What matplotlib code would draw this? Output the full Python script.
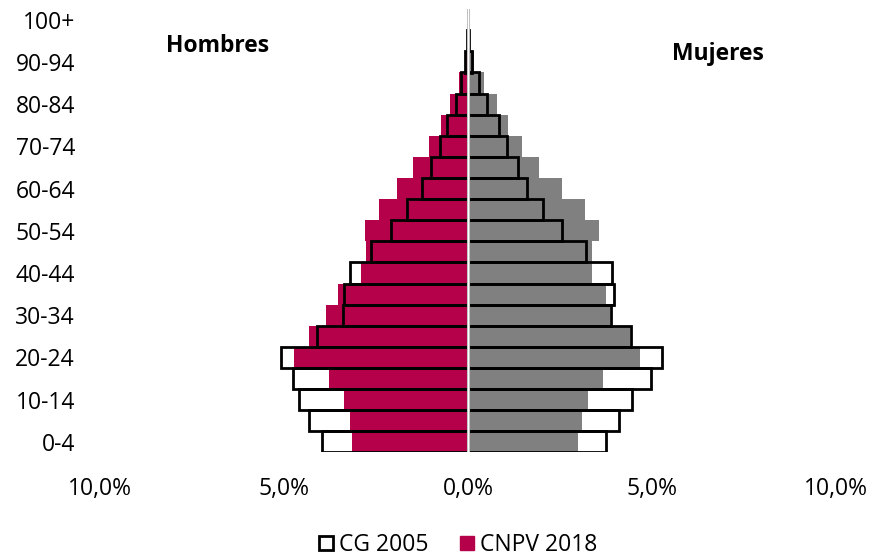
import numpy as np
import matplotlib
matplotlib.use("Agg")
import matplotlib.pyplot as plt
from matplotlib.patches import Patch

plt.rcParams['font.family'] = ['Open Sans', 'DejaVu Sans']

# age groups, bottom to top
ages = ["0-4", "5-9", "10-14", "15-19", "20-24", "25-29", "30-34", "35-39",
        "40-44", "45-49", "50-54", "55-59", "60-64", "65-69", "70-74",
        "75-79", "80-84", "85-89", "90-94", "95-99", "100+"]

# CNPV 2018 (% of total population)
men_2018 = [3.16, 3.22, 3.37, 3.79, 4.73, 4.32, 3.87, 3.53, 2.92, 2.78, 2.80,
            2.43, 1.92, 1.49, 1.05, 0.73, 0.48, 0.25, 0.09, 0.02, 0.01]
women_2018 = [3.00, 3.11, 3.25, 3.68, 4.67, 4.41, 3.87, 3.76, 3.36, 3.38, 3.56,
              3.18, 2.55, 1.94, 1.46, 1.10, 0.79, 0.44, 0.16, 0.03, 0.01]

# CG 2005
men_2005 = [3.98, 4.31, 4.60, 4.76, 5.08, 4.11, 3.40, 3.37, 3.22, 2.64, 2.10,
            1.67, 1.24, 1.01, 0.76, 0.58, 0.33, 0.19, 0.07, 0.02, 0.01]
women_2005 = [3.76, 4.10, 4.45, 4.97, 5.28, 4.43, 3.89, 3.96, 3.91, 3.20, 2.56,
              2.05, 1.59, 1.37, 1.07, 0.83, 0.51, 0.30, 0.12, 0.03, 0.01]

CRIMSON = "#B5004A"
GRAY = "#808080"
FS = 16.5

fig = plt.figure(figsize=(8.74, 5.57), dpi=100)
ax = fig.add_axes([100/874, 1 - 452.3/557, 736/874, (452.3 - 9.2)/557])

y = np.arange(len(ages))

# filled bars for 2018
ax.barh(y, -np.array(men_2018), height=1.0, color=CRIMSON, zorder=2)
ax.barh(y, women_2018, height=1.0, color=GRAY, zorder=2)

# outline bars for 2005
ax.barh(y, -np.array(men_2005), height=1.0, fill=False, edgecolor="black",
        linewidth=2, zorder=3)
ax.barh(y, women_2005, height=1.0, fill=False, edgecolor="black",
        linewidth=2, zorder=3)

# center axis line
ax.axvline(0, color="#bfbfbf", lw=2.2, zorder=4)
ax.axvline(0, color="white", lw=0.8, zorder=5)

ax.set_xlim(-10, 10)
ax.set_ylim(-0.5, len(ages) - 0.5)

xt = [-10, -5, 0, 5, 10]
ax.set_xticks(xt)
ax.set_xticklabels([("%.1f%%" % abs(v)).replace(".", ",") for v in xt])
ax.set_yticks(y[::2])
ax.set_yticklabels(ages[::2])
ax.tick_params(axis="x", length=0, pad=18, labelsize=FS, colors="black")
ax.tick_params(axis="y", length=0, pad=18, labelsize=FS, colors="black")

for s in ax.spines.values():
    s.set_visible(False)

ax.text(-6.8, 18.75, "Hombres", fontsize=FS, fontweight="bold",
        ha="center", va="center")
ax.text(6.8, 18.4, "Mujeres", fontsize=FS, fontweight="bold",
        ha="center", va="center")

handles = [Patch(facecolor="white", edgecolor="black", linewidth=2, label="CG 2005"),
           Patch(facecolor=CRIMSON, edgecolor=CRIMSON, label="CNPV 2018")]
fig.legend(handles=handles, loc="center", bbox_to_anchor=(458/874, 1 - 545/557),
           ncol=2, frameon=False, fontsize=FS, handlelength=0.6,
           handleheight=0.6, handletextpad=0.25, columnspacing=1.4,
           borderpad=0)

fig.savefig("out.png", dpi=100)
